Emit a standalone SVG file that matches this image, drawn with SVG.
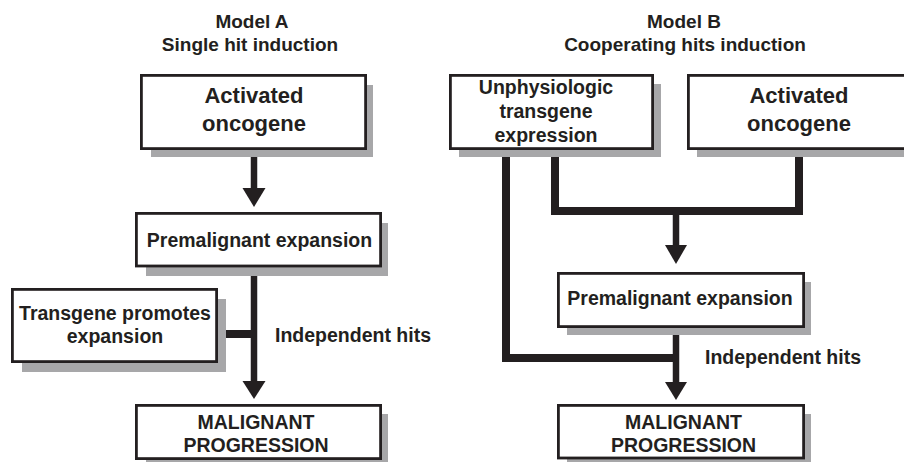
<svg xmlns="http://www.w3.org/2000/svg" width="904" height="462" viewBox="0 0 904 462">
<style>
text{font-family:"Liberation Sans",Arial,Helvetica,sans-serif;font-weight:bold;fill:#231f20;text-anchor:middle}
.t{font-size:19px}
.b{font-size:19.5px}
.big{font-size:22px}
.l{text-anchor:start}
.box{fill:#fff;stroke:#231f20;stroke-width:2.8}
.sh{fill:#a7a7a9}
.ln{fill:none;stroke:#231f20;stroke-linejoin:miter;stroke-linecap:butt}
.hd{fill:#231f20}
</style>
<rect width="904" height="462" fill="#fff"/>
<g id="titles">
<text class="t" x="252" y="28">Model A</text>
<text class="t" x="250" y="51">Single hit induction</text>
<text class="t" x="684" y="28">Model B</text>
<text class="t" x="685" y="51">Cooperating hits induction</text>
</g>
<g id="connectors">
<line class="ln" x1="254" y1="157" x2="254" y2="190" stroke-width="6.5"/>
<polygon class="hd" points="242.5,188 265.5,188 254,207"/>
<line class="ln" x1="254" y1="276" x2="254" y2="383" stroke-width="6.5"/>
<polygon class="hd" points="242.5,381 265.5,381 254,399"/>
<line class="ln" x1="226" y1="334" x2="254" y2="334" stroke-width="8"/>
<path class="ln" d="M506,157 V358 H676" stroke-width="8"/>
<path class="ln" d="M555,157 V211 H799 V157" stroke-width="8"/>
<line class="ln" x1="676" y1="211" x2="676" y2="247" stroke-width="6.5"/>
<polygon class="hd" points="665,245 687,245 676,264"/>
<line class="ln" x1="676" y1="335" x2="676" y2="384" stroke-width="6.5"/>
<polygon class="hd" points="665,382 687,382 676,400"/>
<text class="b l" x="275" y="342">Independent hits</text>
<text class="b l" x="705" y="364">Independent hits</text>
</g>
<g id="a-oncogene">
<rect class="sh" x="151" y="85" width="222" height="72"/>
<rect class="box" x="141.4" y="75.4" width="224.2" height="73.2"/>
<text class="big" x="254" y="103">Activated</text>
<text class="big" x="254" y="131">oncogene</text>
</g>
<g id="a-premalignant">
<rect class="sh" x="146" y="223" width="242" height="53"/>
<rect class="box" x="136.4" y="213.4" width="244.2" height="52.6"/>
<text class="b" x="259.5" y="247">Premalignant expansion</text>
</g>
<g id="a-transgene">
<rect class="sh" x="22" y="299" width="204" height="73"/>
<rect class="box" x="12.4" y="289.4" width="204.2" height="72.2"/>
<text class="b" x="115" y="320">Transgene promotes</text>
<text class="b" x="115" y="343">expansion</text>
</g>
<g id="a-malignant">
<rect class="sh" x="146" y="414" width="242" height="54"/>
<rect class="box" x="136.4" y="405.4" width="244.2" height="53.2"/>
<text class="b" x="256" y="429">MALIGNANT</text>
<text class="b" x="256" y="452">PROGRESSION</text>
</g>
<g id="b-unphysiologic">
<rect class="sh" x="459" y="84" width="202" height="73"/>
<rect class="box" x="450.4" y="75.4" width="202.2" height="73.2"/>
<text class="b" x="546" y="94">Unphysiologic</text>
<text class="b" x="546" y="118">transgene</text>
<text class="b" x="546" y="142">expression</text>
</g>
<g id="b-oncogene">
<rect class="sh" x="697" y="84" width="220" height="73"/>
<rect class="box" x="688.4" y="75.4" width="224" height="73.2"/>
<text class="big" x="799" y="103">Activated</text>
<text class="big" x="799" y="131">oncogene</text>
</g>
<g id="b-premalignant">
<rect class="sh" x="567" y="282" width="244" height="53"/>
<rect class="box" x="558.4" y="273.4" width="245.2" height="53.2"/>
<text class="b" x="680" y="305">Premalignant expansion</text>
</g>
<g id="b-malignant">
<rect class="sh" x="567" y="414" width="244" height="54"/>
<rect class="box" x="558.4" y="405.4" width="245.2" height="52.6"/>
<text class="b" x="683.5" y="429">MALIGNANT</text>
<text class="b" x="683.5" y="452">PROGRESSION</text>
</g>
</svg>
